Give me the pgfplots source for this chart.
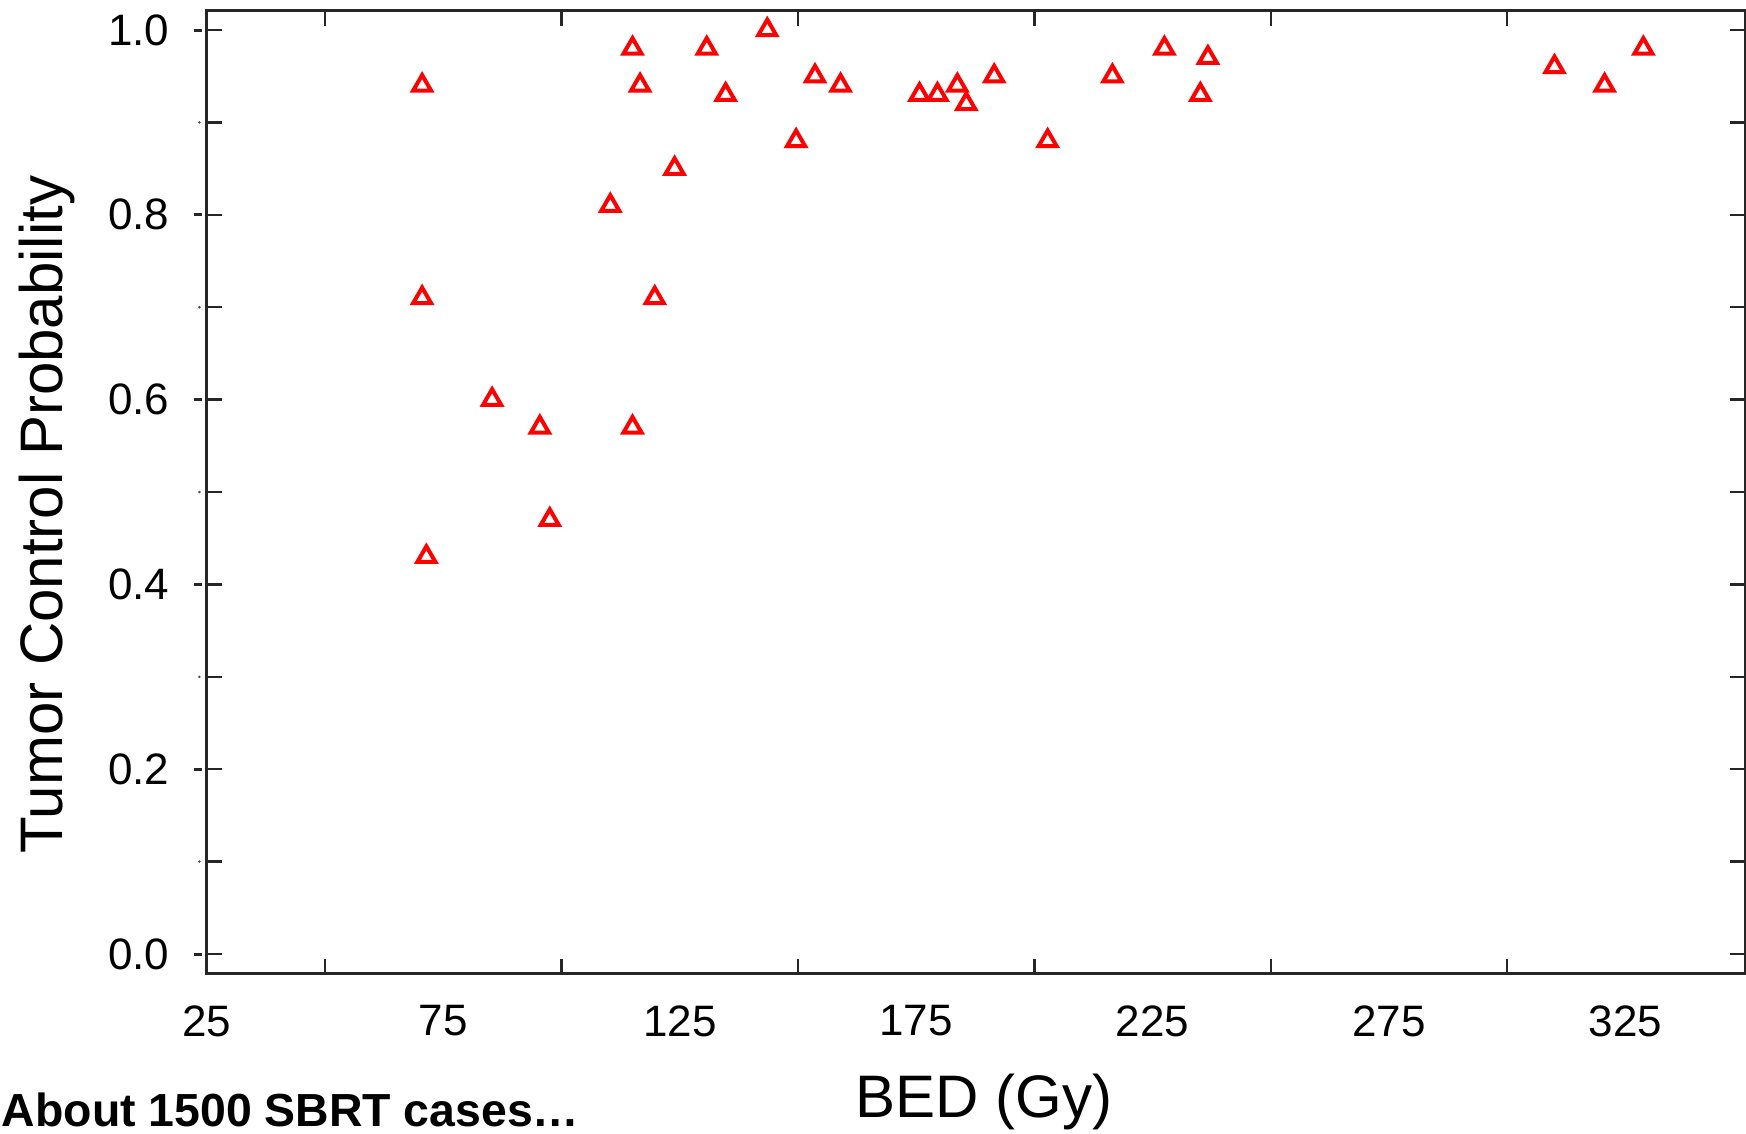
\documentclass[border=0pt]{standalone}
\usepackage{pgfplots}
\pgfplotsset{compat=1.18}
\usepackage{fontspec}
\setmainfont{Liberation Sans}

\pgfplotstableread{
x y
70.5 0.94
70.5 0.71
71.4 0.43
85.3 0.60
95.4 0.57
97.5 0.47
110.3 0.81
115.0 0.98
116.6 0.94
115.0 0.57
119.7 0.71
123.9 0.85
130.7 0.98
134.7 0.93
143.5 1.00
149.6 0.88
153.6 0.95
159.0 0.94
175.7 0.93
179.5 0.93
183.7 0.94
185.6 0.92
191.5 0.95
202.8 0.88
216.5 0.95
227.5 0.98
235.1 0.93
236.7 0.97
310.0 0.96
320.6 0.94
328.8 0.98
}\tcpdata

\begin{document}
\begin{tikzpicture}
\begin{axis}[
  at={(0,0)}, anchor=south west,
  scale only axis, width=384.5pt, height=240.75pt,
  xmin=25, xmax=350.3, ymin=-0.0216, ymax=1.0206,
  clip=false,
  xtick={25,75,125,175,225,275,325},
  minor xtick={50,100,150,200,250,300},
  ytick={0,0.2,0.4,0.6,0.8,1},
  minor ytick={0.1,0.3,0.5,0.7,0.9},
  major x tick style={draw=none},
  tick align=inside,
  major tick length=3.75pt, minor tick length=3.75pt,
  tick style={line width=0.6pt, black!85},
  axis line style={line width=0.75pt, black!85},
  /pgf/number format/assume math mode=true,
  y tick label style={/pgf/number format/.cd, fixed, fixed zerofill, precision=1, /tikz/.cd},
  xticklabel style={font=\fontsize{11}{13}\selectfont, anchor=center, yshift=-11.75pt},
  yticklabel style={font=\fontsize{11}{13}\selectfont, anchor=center, xshift=-17.1pt},
  xlabel={BED (Gy)},
  xlabel style={font=\fontsize{15}{18}\selectfont, at={(axis description cs:0.505,-0.1329)}, anchor=center},
  ylabel={Tumor Control Probability},
  ylabel style={font=\fontsize{15}{18}\selectfont, at={(axis description cs:-0.104,0.477)}, anchor=center},
]
\addplot[only marks, mark=triangle, mark size=2.6pt, red, mark options={line width=1pt, draw=red, fill=none}] table[x=x, y=y] {\tcpdata};
\pgfplotsinvokeforeach{0,0.2,0.4,0.6,0.8,1}{
  \draw[line width=0.75pt, black!85] ([xshift=-3.25pt]axis cs:25,#1) -- ([xshift=-1.25pt]axis cs:25,#1);
}
\pgfplotsinvokeforeach{0.1,0.3,0.5,0.7,0.9}{
  \fill[black!70] ([xshift=-1.9pt]axis cs:25,#1) circle (0.35pt);
}
\end{axis}
\node[anchor=base west, font=\bfseries\fontsize{11.6}{14}\selectfont, inner sep=0pt] at (-51.5pt,-38.25pt) {About 1500 SBRT cases…};
\pgfresetboundingbox
\useasboundingbox (-51.75pt,-40pt) rectangle (384.75pt,243.5pt);
\end{tikzpicture}
\end{document}
